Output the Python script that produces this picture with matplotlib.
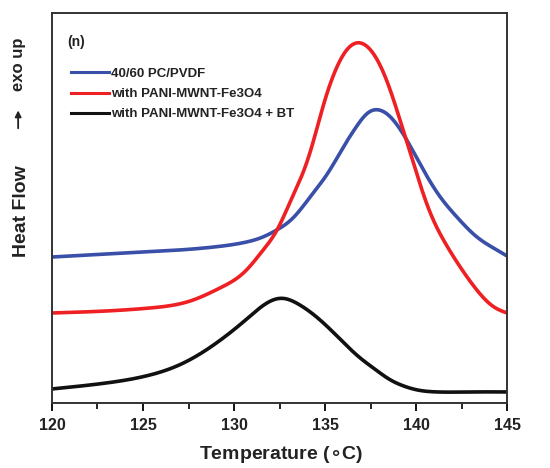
import numpy as np
import matplotlib.pyplot as plt
from matplotlib.ticker import MultipleLocator

plt.rcParams['font.family'] = ['Liberation Sans', 'DejaVu Sans']
plt.rcParams['font.weight'] = 'bold'

# DSC traces (heat flow in arbitrary units)
t_blue = [120.0, 123.0, 125.0, 127.0, 128.9, 130.7, 131.6, 132.35, 133.2, 134.18,
          135.27, 136.0, 136.74, 137.29, 137.84, 138.57, 139.4, 140.4, 141.32,
          142.24, 143.33, 144.25, 145.0]
hf_blue = [146, 149, 151, 153, 156, 161, 166, 173, 184, 206,
           233, 256, 277, 290, 294, 287, 266, 233, 206,
           186, 166, 155, 147]

t_red = [120.0, 123.0, 125.4, 127.0, 127.77, 129.23, 130.7, 131.6, 132.35, 133.08,
         134.18, 134.9, 135.45, 136.19, 136.92, 137.66, 138.39, 139.12, 139.85,
         140.77, 141.5, 142.42, 143.33, 144.25, 145.0]
hf_red = [90, 92, 95, 99, 103, 115, 133, 153, 172, 201,
          250, 298, 328, 354, 361, 350, 323, 283, 240,
          190, 163, 136, 113, 96, 90]

t_black = [120.0, 123.0, 125.4, 127.0, 128.13, 129.41, 130.7, 131.98, 132.7, 133.44,
           134.54, 135.82, 136.92, 137.8, 138.4, 139.3, 140.04, 141.1, 143.0, 145.0]
hf_black = [14, 20, 28, 38, 49, 65, 84, 102, 105, 100,
            86, 64, 45, 33, 25, 17, 13, 11, 11, 11]

labels = ['40/60 PC/PVDF', 'with PANI-MWNT-Fe3O4', 'with PANI-MWNT-Fe3O4 + BT']


def smooth(x, y, n=1001, sigma=0.22):
    # natural cubic spline through the read points, then a light gaussian blur
    x = np.asarray(x, float)
    y = np.asarray(y, float)
    N = len(x)
    h = np.diff(x)
    A = np.zeros((N, N))
    b = np.zeros(N)
    A[0, 0] = A[-1, -1] = 1
    for i in range(1, N - 1):
        A[i, i - 1] = h[i - 1]
        A[i, i] = 2 * (h[i - 1] + h[i])
        A[i, i + 1] = h[i]
        b[i] = 6 * ((y[i + 1] - y[i]) / h[i] - (y[i] - y[i - 1]) / h[i - 1])
    M = np.linalg.solve(A, b)
    xs = np.linspace(x[0], x[-1], n)
    i = np.clip(np.searchsorted(x, xs) - 1, 0, N - 2)
    dx1 = x[i + 1] - xs
    dx0 = xs - x[i]
    hi = h[i]
    ys = (M[i] * dx1**3 / (6 * hi) + M[i + 1] * dx0**3 / (6 * hi)
          + (y[i] / hi - M[i] * hi / 6) * dx1 + (y[i + 1] / hi - M[i + 1] * hi / 6) * dx0)

    dx = xs[1] - xs[0]
    half = int(4 * sigma / dx)
    k = np.exp(-0.5 * (np.arange(-half, half + 1) * dx / sigma) ** 2)
    k /= k.sum()
    left = ys[0] - (ys[1] - ys[0]) * np.arange(half, 0, -1)
    right = ys[-1] + (ys[-1] - ys[-2]) * np.arange(1, half + 1)
    padded = np.concatenate([left, ys, right])
    return xs, np.convolve(padded, k, mode='valid')


fig = plt.figure(figsize=(5.5, 4.68), dpi=100)
ax = fig.add_axes([0.0945, 0.139, 0.8275, 0.833])

ax.plot(*smooth(t_blue, hf_blue), color='#3a4fa8', lw=2.6, label=labels[0])
ax.plot(*smooth(t_red, hf_red), color='#ee2024', lw=2.6, label=labels[1])
ax.plot(*smooth(t_black, hf_black), color='#111111', lw=2.6, label=labels[2])

ax.set_xlim(120, 145)
ax.set_ylim(0, 390)
ax.set_yticks([])
ax.xaxis.set_major_locator(MultipleLocator(5))
ax.xaxis.set_minor_locator(MultipleLocator(2.5))
ax.tick_params(axis='x', which='major', direction='out', length=6, width=1.3,
               labelsize=11.5, pad=5, labelcolor='#222222')
ax.tick_params(axis='x', which='minor', direction='out', length=4, width=1.2)
for s in ax.spines.values():
    s.set_linewidth(1.4)
    s.set_color('#333333')

leg = ax.legend(loc='upper left', bbox_to_anchor=(0.015, 0.89), frameon=False,
                handlelength=2.9, handletextpad=0.15, labelspacing=0.6,
                prop={'size': 9.5, 'weight': 'bold'})
for line in leg.get_lines():
    line.set_linewidth(2.2)
for txt in leg.get_texts():
    txt.set_color('#222222')

ax.text(0.033, 0.915, '(n)', transform=ax.transAxes, fontsize=10, fontweight='bold',
        color='#222222')

fig.text(0.51, 0.028, r'Temperature ($\circ$C)', ha='center', va='center',
         fontsize=14, fontweight='bold', color='#222222')
fig.text(0.04, 0.548, 'Heat Flow', rotation=90, ha='center', va='center',
         fontsize=14, fontweight='bold', color='#222222')
fig.text(0.033, 0.862, 'exo up', rotation=90, ha='center', va='center',
         fontsize=12, fontweight='bold', color='#222222')
ax.annotate('', xy=(0.033, 0.77), xytext=(0.033, 0.72), xycoords='figure fraction',
            arrowprops=dict(arrowstyle='-|>', color='#222222', lw=1.3,
                            mutation_scale=9))

fig.savefig('out.png', dpi=100)
